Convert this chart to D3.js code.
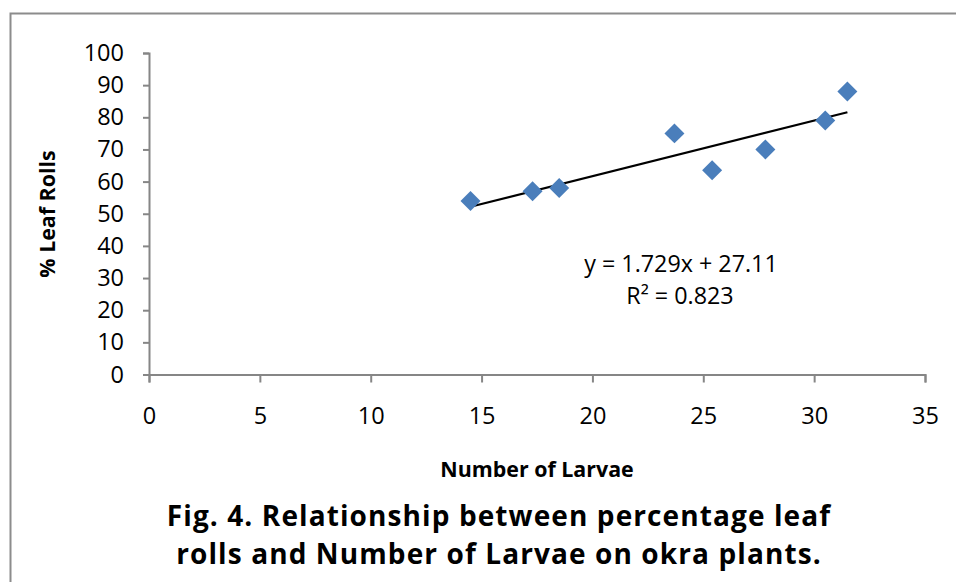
<!DOCTYPE html>
<html>
<head>
<meta charset="utf-8">
<script src="https://cdn.jsdelivr.net/npm/d3@7"></script>
<style>
  html, body { margin: 0; padding: 0; background: #fff; }
  svg text { font-family: "Open Sans", Lato, sans-serif; fill: #000; }
</style>
</head>
<body>
<svg id="chart" width="956" height="582"></svg>
<script>
// Larvae count per plant sample and the matching leaf-roll percentage
const larvae = [14.5, 17.3, 18.5, 23.7, 25.4, 27.8, 30.5, 31.5];
const leafRolls = [54, 57, 58, 75, 63.5, 70, 79, 88];
const xTicks = [0, 5, 10, 15, 20, 25, 30, 35];
const yTicks = [0, 10, 20, 30, 40, 50, 60, 70, 80, 90, 100];
// Linear trend line fitted to the points
const slope = 1.729, intercept = 27.11, r2 = 0.823;
const captionLines = [
  "Fig. 4. Relationship between percentage leaf",
  "rolls and Number of Larvae on okra plants."
];

const svg = d3.select("#chart");
const font = "'Open Sans', Lato, sans-serif";

// outer frame (only top and left edges fall inside the view)
svg.append("path")
  .attr("d", "M10.5,582 V13.5 H956")
  .attr("fill", "none").attr("stroke", "#8c8c8c").attr("stroke-width", 2);

const x = d3.scaleLinear().domain([0, 35]).range([149, 925]);
const y = d3.scaleLinear().domain([0, 100]).range([374.5, 53]);

const axisColor = "#868686";

const gx = svg.append("g").attr("transform", `translate(0,${y(0)})`)
  .call(d3.axisBottom(x).tickValues(xTicks).tickSize(8).tickPadding(25));
const gy = svg.append("g").attr("transform", `translate(${x(0)},0)`)
  .call(d3.axisLeft(y).tickValues(yTicks).tickSize(6).tickPadding(19));

[gx, gy].forEach(g => {
  g.select(".domain").attr("stroke", axisColor).attr("stroke-width", 2);
  g.selectAll(".tick line").attr("stroke", axisColor).attr("stroke-width", 2);
  g.selectAll(".tick text").attr("font-size", 23.5).attr("fill", "#000")
    .style("font-family", font);
});

// trend line across the data range
const x0 = d3.min(larvae), x1 = d3.max(larvae);
svg.append("line")
  .attr("x1", x(x0)).attr("y1", y(slope * x0 + intercept))
  .attr("x2", x(x1)).attr("y2", y(slope * x1 + intercept))
  .attr("stroke", "#000").attr("stroke-width", 2.2);

// diamond markers
const diamond = d3.symbol().type(d3.symbolSquare).size(200);
svg.append("g").selectAll("path")
  .data(larvae.map((v, i) => [v, leafRolls[i]]))
  .join("path")
  .attr("d", diamond)
  .attr("transform", d => `translate(${x(d[0])},${y(d[1])}) rotate(45)`)
  .attr("fill", "#4A7EBB");

// trend equation
svg.append("text").attr("x", 681).attr("y", 272).attr("text-anchor", "middle")
  .attr("font-size", 23.3)
  .text(`y = ${slope}x + ${intercept}`);
svg.append("text").attr("x", 680).attr("y", 304).attr("text-anchor", "middle")
  .attr("font-size", 23.3)
  .text(`R² = ${r2}`);

// axis titles
svg.append("text").attr("x", 537).attr("y", 477).attr("text-anchor", "middle")
  .attr("font-size", 21.4).attr("font-weight", "bold")
  .text("Number of Larvae");
svg.append("text").attr("transform", "translate(55,214) rotate(-90)")
  .attr("text-anchor", "middle")
  .attr("font-size", 21.4).attr("font-weight", "bold")
  .text("% Leaf Rolls");

// figure caption, two centred lines
svg.append("g").selectAll("text").data(captionLines).join("text")
  .attr("x", 499).attr("y", (d, i) => 525.5 + i * 38)
  .attr("text-anchor", "middle")
  .attr("font-size", 28).attr("font-weight", "bold")
  .attr("letter-spacing", 1.1)
  .text(d => d);
</script>
</body>
</html>
